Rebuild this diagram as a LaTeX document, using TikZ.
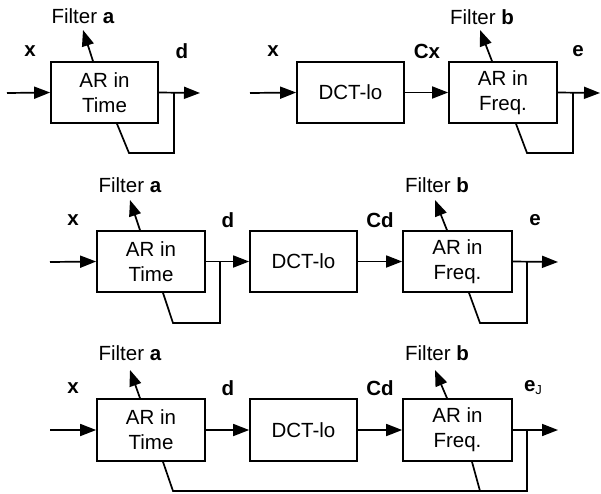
\documentclass[tikz,border=0pt]{standalone}
\usepackage{fontspec}
\setmainfont{Liberation Sans}
\usetikzlibrary{arrows.meta}
\begin{document}
\begin{tikzpicture}[x=1pt,y=-1pt,
  every node/.style={font=\fontsize{20.5}{25}\selectfont},
  blk/.style={draw,line width=1.7pt,minimum width=107pt,minimum height=61pt,inner sep=0pt,align=center},
  wire/.style={line width=1.7pt},
  arr/.style={line width=1.7pt,-{Triangle[length=16pt,width=12pt]}},
  lbl/.style={font=\fontsize{20.5}{25}\selectfont\bfseries,inner sep=0pt}]
\useasboundingbox (0,0) rectangle (601,493);
% Row 1
\node[blk] (t1) at (104.5,92.5) {AR in\\Time};
\node[blk] (d1) at (350.5,92.5) {DCT-lo};
\node[blk,minimum width=108pt] (f1) at (503,92.5) {AR in\\Freq.};
\coordinate (i1) at (7,93);
\coordinate (o1) at (200,93);
\coordinate (i1b) at (250,93);
\coordinate (o1b) at (600,93);
\coordinate (fa1) at (83,30);
\coordinate (fb1) at (480,30);
\coordinate (p1a) at (174,93); \coordinate (p1b) at (174,153); \coordinate (p1c) at (129,153);
\coordinate (q1a) at (573,93); \coordinate (q1b) at (573,153); \coordinate (q1c) at (527,153);
\draw[arr] (i1) -- (t1.west);
\draw[arr] (t1.east) -- (o1);
\draw[wire] (p1a) -- (p1b) -- (p1c) -- ([xshift=12.5pt]t1.south);
\draw[arr] ([xshift=-11.5pt]t1.north) -- (fa1);
\draw[arr] (i1b) -- (d1.west);
\draw[arr] (d1.east) -- (f1.west);
\draw[arr] (f1.east) -- (o1b);
\draw[wire] (q1a) -- (q1b) -- (q1c) -- ([xshift=13pt]f1.south);
\draw[arr] ([xshift=-11pt]f1.north) -- (fb1);
\node (la1) at (83,16) {Filter \textbf{a}};
\node (lb1) at (482,17) {Filter \textbf{b}};
\node[lbl] (x1) at (30,51) {x};
\node[lbl] (dd1) at (182,51) {d};
\node[lbl] (x1b) at (273,51) {x};
\node[lbl] (cx1) at (427,51) {Cx};
\node[lbl] (e1) at (578,51) {e};
% Row 2
\node[blk,minimum width=108pt] (t2) at (151,261.5) {AR in\\Time};
\node[blk] (c2) at (303.5,261.5) {DCT-lo};
\node[blk,minimum width=109pt] (f2) at (457.5,261.5) {AR in\\Freq.};
\coordinate (i2) at (50,262);
\coordinate (o2) at (558,262);
\coordinate (fa2) at (130,200);
\coordinate (fb2) at (435,200);
\coordinate (p2a) at (220,262); \coordinate (p2b) at (220,323); \coordinate (p2c) at (173,323);
\coordinate (q2a) at (527,262); \coordinate (q2b) at (527,323); \coordinate (q2c) at (480,323);
\draw[arr] (i2) -- (t2.west);
\draw[arr] (t2.east) -- (c2.west);
\draw[arr] (c2.east) -- (f2.west);
\draw[arr] (f2.east) -- (o2);
\draw[wire] (p2a) -- (p2b) -- (p2c) -- ([xshift=12pt]t2.south);
\draw[wire] (q2a) -- (q2b) -- (q2c) -- ([xshift=11.5pt]f2.south);
\draw[arr] ([xshift=-11pt]t2.north) -- (fa2);
\draw[arr] ([xshift=-10.5pt]f2.north) -- (fb2);
\node (la2) at (130,185) {Filter \textbf{a}};
\node (lb2) at (437,185) {Filter \textbf{b}};
\node[lbl] (x2) at (73,220) {x};
\node[lbl] (dd2) at (228,220) {d};
\node[lbl] (cd2) at (380,220) {Cd};
\node[lbl] (e2) at (535,220) {e};
% Row 3
\node[blk,minimum width=108pt,minimum height=62pt] (t3) at (151,430) {AR in\\Time};
\node[blk,minimum height=62pt] (c3) at (303.5,430) {DCT-lo};
\node[blk,minimum width=109pt,minimum height=62pt] (f3) at (457.5,430) {AR in\\Freq.};
\coordinate (i3) at (50,430);
\coordinate (o3) at (558,430);
\coordinate (fa3) at (130,370);
\coordinate (fb3) at (435,370);
\coordinate (p3a) at (527,430); \coordinate (p3b) at (527,491); \coordinate (p3c) at (173,491);
\coordinate (q3c) at (480,491);
\draw[arr] (i3) -- (t3.west);
\draw[arr] (t3.east) -- (c3.west);
\draw[arr] (c3.east) -- (f3.west);
\draw[arr] (f3.east) -- (o3);
\draw[wire] (p3a) -- (p3b) -- (p3c) -- ([xshift=12pt]t3.south);
\draw[wire] (q3c) -- ([xshift=14.5pt]f3.south);
\draw[arr] ([xshift=-11pt]t3.north) -- (fa3);
\draw[arr] ([xshift=-10.5pt]f3.north) -- (fb3);
\node (la3) at (130,353) {Filter \textbf{a}};
\node (lb3) at (437,353) {Filter \textbf{b}};
\node[lbl] (x3) at (73,388) {x};
\node[lbl] (dd3) at (228,388) {d};
\node[lbl] (cd3) at (380,388) {Cd};
\node[lbl] (e3) at (533,388) {e{\fontsize{13}{13}\selectfont\mdseries\raisebox{-3pt}{J}}};
\end{tikzpicture}
\end{document}
